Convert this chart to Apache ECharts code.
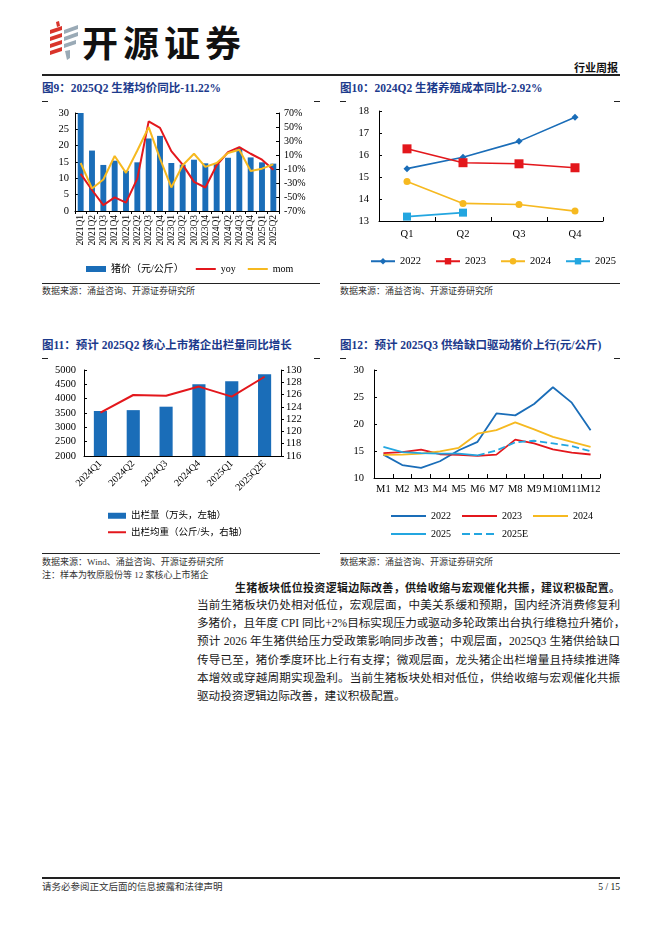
<!DOCTYPE html>
<html><head><meta charset="utf-8">
<script src="https://cdn.jsdelivr.net/npm/echarts@6/dist/echarts.min.js"></script>
<style>
body{margin:0;width:662px;height:936px;background:#fff;position:relative;overflow:hidden;font-family:"Liberation Serif","Noto Sans CJK SC",serif;color:#111;}
.abs{position:absolute;}
.title{color:#1c3a8c;font-weight:bold;font-size:11.5px;white-space:nowrap;line-height:14px;}
.src{font-size:9px;color:#333;white-space:nowrap;line-height:12px;}
.hr{position:absolute;height:1px;background:#222;}
.mark{position:absolute;height:1px;width:6px;background:#222;}
.body{position:absolute;left:197px;width:423px;font-size:11.6px;line-height:14px;white-space:nowrap;font-family:"Liberation Serif","Noto Sans CJK SC",serif;color:#1a1a1a;text-align:justify;text-align-last:justify;}
.chart{position:absolute;}
</style></head>
<body>
<!-- header -->
<svg class="abs" style="left:48px;top:20px" width="34" height="42" viewBox="0 0 34 42">
  <polygon points="2,10 14,6 14,10 2,14" fill="#d9342b"/>
  <polygon points="2,17 14,13 14,17 2,21" fill="#d9342b"/>
  <polygon points="2,24 14,20 14,24 2,28" fill="#d9342b"/>
  <polygon points="2,31 14,27 14,31 2,35" fill="#d9342b"/>
  <polygon points="8,2 11,1 12,6 9,7" fill="#d9342b"/>
  <polygon points="16,10 30,5 30,9 16,14" fill="#9aaab6"/>
  <polygon points="16,17 30,12 30,16 16,21" fill="#9aaab6"/>
  <polygon points="16,24 28,20 28,24 16,28" fill="#9aaab6"/>
  <polygon points="17,31 22,30 22,38 19,40" fill="#9aaab6"/>
</svg>
<div class="abs" style="left:82px;top:20px;font-family:'Noto Sans CJK SC';font-weight:bold;font-size:36px;line-height:42px;color:#111;letter-spacing:5px;">开源证券</div>
<div class="abs" style="right:44px;top:61px;font-family:'Noto Sans CJK SC';font-weight:bold;font-size:11px;line-height:13px;">行业周报</div>
<div class="hr" style="left:42px;width:578px;top:74px;height:1.5px;"></div>

<div class="abs title" style="left:42px;top:81px;">图9：2025Q2 生猪均价同比-11.22%</div>
<div class="abs title" style="left:340px;top:81px;">图10：2024Q2 生猪养殖成本同比-2.92%</div>
<div class="mark" style="left:42px;top:101px"></div><div class="mark" style="left:314px;top:101px"></div>
<div class="mark" style="left:340px;top:101px"></div><div class="mark" style="left:614px;top:101px"></div>

<div id="c9" class="chart" style="left:40px;top:100px;width:290px;height:180px;"></div>
<div id="c10" class="chart" style="left:335px;top:100px;width:290px;height:180px;"></div>

<div class="hr" style="left:42px;width:278px;top:283px;"></div>
<div class="hr" style="left:340px;width:280px;top:283px;"></div>
<div class="abs src" style="left:42px;top:285px;">数据来源：涌益咨询、开源证券研究所</div>
<div class="abs src" style="left:340px;top:285px;">数据来源：涌益咨询、开源证券研究所</div>

<div class="abs title" style="left:42px;top:338px;">图11：预计 2025Q2 核心上市猪企出栏量同比增长</div>
<div class="abs title" style="left:340px;top:338px;">图12：预计 2025Q3 供给缺口驱动猪价上行(元/公斤)</div>
<div class="mark" style="left:42px;top:358px"></div><div class="mark" style="left:314px;top:358px"></div>
<div class="mark" style="left:340px;top:358px"></div><div class="mark" style="left:614px;top:358px"></div>

<div id="c11" class="chart" style="left:40px;top:355px;width:290px;height:190px;"></div>
<div id="c12" class="chart" style="left:335px;top:355px;width:290px;height:190px;"></div>

<div class="hr" style="left:42px;width:278px;top:553px;"></div>
<div class="hr" style="left:340px;width:280px;top:553px;"></div>
<div class="abs src" style="left:42px;top:556px;">数据来源：Wind、涌益咨询、开源证券研究所</div>
<div class="abs src" style="left:42px;top:569px;">注：样本为牧原股份等 12 家核心上市猪企</div>
<div class="abs src" style="left:340px;top:556px;">数据来源：涌益咨询、开源证券研究所</div>

<div class="body" style="left:235px;width:385px;top:581px;font-weight:bold;font-size:11px;">生猪板块低位投资逻辑边际改善，供给收缩与宏观催化共振，建议积极配置。</div>
<div class="body" style="top:599px;">当前生猪板块仍处相对低位，宏观层面，中美关系缓和预期，国内经济消费修复利</div>
<div class="body" style="top:617px;">多猪价，且年度 CPI 同比+2%目标实现压力或驱动多轮政策出台执行维稳拉升猪价，</div>
<div class="body" style="top:635px;">预计 2026 年生猪供给压力受政策影响同步改善；中观层面，2025Q3 生猪供给缺口</div>
<div class="body" style="top:654px;">传导已至，猪价季度环比上行有支撑；微观层面，龙头猪企出栏增量且持续推进降</div>
<div class="body" style="top:672px;">本增效或穿越周期实现盈利。当前生猪板块处相对低位，供给收缩与宏观催化共振</div>
<div class="body" style="top:690px;text-align:left;text-align-last:left;">驱动投资逻辑边际改善，建议积极配置。</div>

<div class="hr" style="left:42px;width:578px;top:877px;height:1.5px;"></div>
<div class="abs src" style="left:42px;top:881px;font-size:9.5px;">请务必参阅正文后面的信息披露和法律声明</div>
<div class="abs src" style="right:42px;top:881px;font-size:9.5px;color:#111;">5 / 15</div>

<script>
// ---------- Data ----------
const c9Categories = ['2021Q1','2021Q2','2021Q3','2021Q4','2022Q1','2022Q2','2022Q3','2022Q4','2023Q1','2023Q2','2023Q3','2023Q4','2024Q1','2024Q2','2024Q3','2024Q4','2025Q1','2025Q2'];
const c9Price = [30.7,18.5,14.1,15.4,12.3,14.9,22.2,23.0,14.7,14.2,15.7,14.6,14.4,16.3,19.3,16.4,14.9,14.5];
const c9Yoy = [-17,-40,-61.5,-50.6,-58,-23.7,58,48.7,15.6,-3.8,-28.4,-36.4,-4.7,14.2,21.3,11.8,3.3,-11.2];
const c9Mom = [-1.4,-37.8,-25,8.5,-15.6,16.5,49.7,4.7,-36.4,-4.7,11.8,-7,-1.4,12.8,17.5,-12.8,-9.5,-3.3];
const c9PctTicks = [-70,-50,-30,-10,10,30,50,70];

const c10Categories = ['Q1','Q2','Q3','Q4'];
const c10Y2022 = [15.38,15.9,16.62,17.72];
const c10Y2023 = [16.28,15.65,15.6,15.42];
const c10Y2024 = [14.8,13.8,13.75,13.45];
const c10Y2025 = [13.2,13.38];

const c11Categories = ['2024Q1','2024Q2','2024Q3','2024Q4','2025Q1','2025Q2E'];
const c11Volume = [3570,3600,3720,4500,4605,4850];
const c11Weight = [123.05,125.93,125.8,127.3,125.66,128.9];

const c12Categories = ['M1','M2','M3','M4','M5','M6','M7','M8','M9','M10','M11','M12'];
const c12Y2022 = [14.33,12.4,11.86,13.1,15.14,16.7,21.95,21.6,23.7,26.8,23.95,18.85];
const c12Y2023 = [14.6,14.8,15.26,14.4,14.27,14.1,14.33,17.1,16.4,15.3,14.7,14.35];
const c12Y2024 = [14.3,14.33,14.5,14.95,15.6,18.2,18.86,20.3,19.0,17.6,16.7,15.75];
const c12Y2025 = [15.75,14.8,14.6,14.5,14.5,14.2];
const c12Y2025E = [null,null,null,null,null,14.2,15.1,16.6,16.9,16.4,15.9,14.96];

// ---------- Styles ----------
const SERIF = '"Liberation Serif","Noto Sans CJK SC",serif';
const BLACK = '#000';
const axisLine = {show:true, lineStyle:{color:BLACK, width:1}};
const lbl = (fs)=>({color:BLACK, fontFamily:SERIF, fontSize:fs});
const C_BLUE='#1a6db8', C_RED='#e3171c', C_YEL='#f6b920', C_LBLUE='#23a6e0';
const noSym = {opacity:0};
const plain = v=>String(v);

// ---------- Chart 9 ----------
echarts.init(document.getElementById('c9')).setOption({
  animation:false,
  grid:{left:35,right:51,top:13,bottom:69,outerBoundsMode:'none'},
  legend:{left:41,top:159,itemWidth:20,itemHeight:6,itemGap:11,textStyle:lbl(10),
    data:[{name:'猪价（元/公斤）',icon:'rect'},{name:'yoy',itemStyle:noSym},{name:'mom',itemStyle:noSym}]},
  xAxis:{type:'category',data:c9Categories,axisLine:axisLine,
    axisTick:{show:true,inside:false,length:3,lineStyle:{color:BLACK}},
    axisLabel:Object.assign(lbl(9.5),{rotate:90,interval:0,margin:4})},
  yAxis:[
    {type:'value',min:0,max:30,interval:5,axisLine:axisLine,splitLine:{show:false},
     axisTick:{show:true,inside:true,length:3,lineStyle:{color:BLACK}},axisLabel:Object.assign(lbl(10.5),{margin:6,formatter:plain})},
    {type:'value',position:'right',min:-70,max:70,interval:20,axisLine:axisLine,splitLine:{show:false},
     axisTick:{show:true,inside:true,length:3,customValues:c9PctTicks,lineStyle:{color:BLACK}},
     axisLabel:Object.assign(lbl(10),{margin:5,customValues:c9PctTicks,formatter:v=>v+'%'})}
  ],
  series:[
    {name:'猪价（元/公斤）',type:'bar',data:c9Price,barWidth:'52%',itemStyle:{color:C_BLUE}},
    {name:'yoy',type:'line',yAxisIndex:1,data:c9Yoy,symbol:'none',lineStyle:{color:C_RED,width:2},itemStyle:{color:C_RED}},
    {name:'mom',type:'line',yAxisIndex:1,data:c9Mom,symbol:'none',lineStyle:{color:C_YEL,width:2},itemStyle:{color:C_YEL}}
  ]
});

// ---------- Chart 10 ----------
const c10Line = (name,data,color,symbol,size)=>({name,type:'line',data,symbol,symbolSize:size,
  lineStyle:{color,width:1.6},itemStyle:{color}});
echarts.init(document.getElementById('c10')).setOption({
  animation:false,
  grid:{left:44,right:22,top:11,bottom:59,outerBoundsMode:'none'},
  legend:{left:30,top:151,itemWidth:24,itemHeight:8,itemGap:14,textStyle:lbl(10.5),data:['2022','2023','2024','2025']},
  xAxis:{type:'category',data:c10Categories,axisLine:axisLine,
    axisTick:{show:true,inside:true,length:4,lineStyle:{color:BLACK}},
    axisLabel:Object.assign(lbl(10.5),{margin:8})},
  yAxis:{type:'value',min:13,max:18,interval:1,axisLine:axisLine,splitLine:{show:false},
    axisTick:{show:true,inside:true,length:3,lineStyle:{color:BLACK}},axisLabel:Object.assign(lbl(10.5),{margin:10,formatter:plain})},
  series:[
    c10Line('2022',c10Y2022,C_BLUE,'diamond',7),
    c10Line('2023',c10Y2023,C_RED,'rect',9),
    c10Line('2024',c10Y2024,C_YEL,'circle',7),
    c10Line('2025',c10Y2025,C_LBLUE,'rect',8)
  ]
});

// ---------- Chart 11 ----------
echarts.init(document.getElementById('c11')).setOption({
  animation:false,
  grid:{left:44,right:49,top:15,bottom:89,outerBoundsMode:'none'},
  legend:{orient:'vertical',left:62,top:151,itemWidth:18,itemHeight:6,itemGap:7,textStyle:lbl(9.5),
    data:[{name:'出栏量（万头，左轴）',icon:'rect'},{name:'出栏均重（公斤/头，右轴）',itemStyle:noSym}]},
  xAxis:{type:'category',data:c11Categories,axisLine:axisLine,axisTick:{show:false},
    axisLabel:Object.assign(lbl(10),{rotate:45,interval:0,margin:6})},
  yAxis:[
    {type:'value',min:2000,max:5000,interval:500,axisLine:axisLine,splitLine:{show:false},
     axisTick:{show:true,inside:true,length:3,lineStyle:{color:BLACK}},axisLabel:Object.assign(lbl(10.5),{margin:8,formatter:plain})},
    {type:'value',position:'right',min:116,max:130,interval:2,axisLine:axisLine,splitLine:{show:false},
     axisTick:{show:true,inside:false,length:3,lineStyle:{color:BLACK}},axisLabel:Object.assign(lbl(10.5),{margin:5,formatter:plain})}
  ],
  series:[
    {name:'出栏量（万头，左轴）',type:'bar',data:c11Volume,barWidth:'40%',itemStyle:{color:C_BLUE}},
    {name:'出栏均重（公斤/头，右轴）',type:'line',yAxisIndex:1,data:c11Weight,symbol:'none',
     lineStyle:{color:C_RED,width:2},itemStyle:{color:C_RED}}
  ]
});

// ---------- Chart 12 ----------
const c12Line = (name,data,color,dashed)=>({name,type:'line',data,symbol:'none',
  lineStyle:{color,width:1.8,type:dashed?'dashed':'solid'},itemStyle:{color}});
echarts.init(document.getElementById('c12')).setOption({
  animation:false,
  grid:{left:39,right:25,top:15,bottom:67,outerBoundsMode:'none'},
  legend:[
    {left:50,top:151,itemWidth:35,itemHeight:8,itemGap:10,textStyle:lbl(10),itemStyle:noSym,data:['2022','2023','2024']},
    {left:50,top:169,itemWidth:35,itemHeight:8,itemGap:10,textStyle:lbl(10),itemStyle:noSym,data:['2025','2025E']}
  ],
  xAxis:{type:'category',data:c12Categories,axisLine:axisLine,
    axisTick:{show:true,inside:true,length:4,lineStyle:{color:BLACK}},
    axisLabel:Object.assign(lbl(10.5),{interval:0,margin:6})},
  yAxis:{type:'value',min:10,max:30,interval:5,axisLine:axisLine,splitLine:{show:false},
    axisTick:{show:true,inside:true,length:3,lineStyle:{color:BLACK}},axisLabel:Object.assign(lbl(10.5),{margin:10,formatter:plain})},
  series:[
    c12Line('2022',c12Y2022,C_BLUE,false),
    c12Line('2023',c12Y2023,C_RED,false),
    c12Line('2024',c12Y2024,C_YEL,false),
    c12Line('2025',c12Y2025,C_LBLUE,false),
    c12Line('2025E',c12Y2025E,C_LBLUE,true)
  ]
});
</script>
</body></html>
